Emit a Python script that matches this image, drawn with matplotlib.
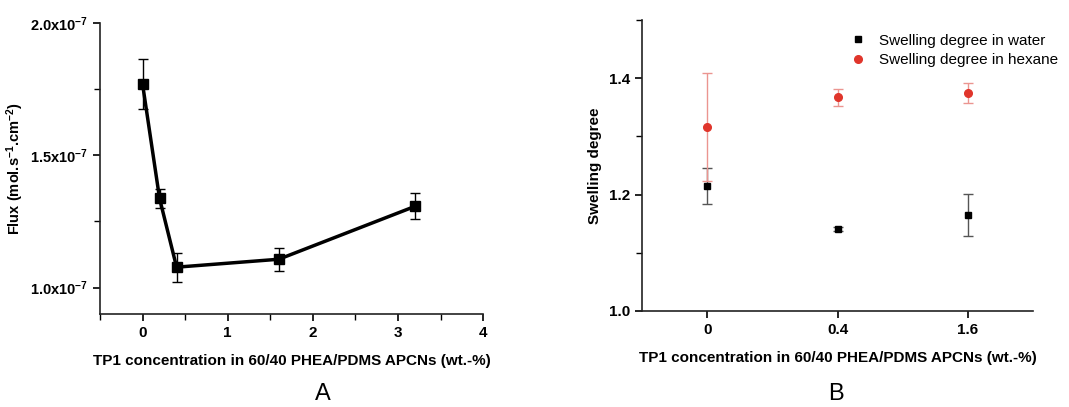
import numpy as np
import matplotlib
matplotlib.use("Agg")
import matplotlib.pyplot as plt
from matplotlib.ticker import MultipleLocator, FuncFormatter

plt.rcParams['font.family'] = ['Liberation Sans', 'DejaVu Sans']
plt.rcParams['mathtext.default'] = 'regular'

# panel A: flux vs TP1 concentration
conc_a = [0, 0.2, 0.4, 1.6, 3.2]
flux = [1.77e-7, 1.337e-7, 1.077e-7, 1.107e-7, 1.307e-7]
flux_err = [0.095e-7, 0.035e-7, 0.055e-7, 0.044e-7, 0.049e-7]

# panel B: swelling degree
conc_b = ['0', '0.4', '1.6']
sw_water = [1.214, 1.141, 1.165]
sw_water_err = [0.031, 0.004, 0.036]
sw_hexane = [1.316, 1.367, 1.374]
sw_hexane_err = [0.092, 0.014, 0.017]

xlabel = "TP1 concentration in 60/40 PHEA/PDMS APCNs (wt.-%)"

fig = plt.figure(figsize=(10.69, 4.07), dpi=100)
ax1 = fig.add_axes([0.0935, 0.2285, 0.3585, 0.715])
ax2 = fig.add_axes([0.6006, 0.2359, 0.3657, 0.7151])

for ax in (ax1, ax2):
    ax.spines['top'].set_visible(False)
    ax.spines['right'].set_visible(False)
    for s in ('left', 'bottom'):
        ax.spines[s].set_linewidth(1.2)
        ax.spines[s].set_color('#222222')
    ax.tick_params(which='major', direction='out', length=5, width=1.2, labelsize=11)
    ax.tick_params(which='minor', direction='out', length=4, width=1.0)

# --- A ---
ax1.errorbar(conc_a, flux, yerr=flux_err, color='black', lw=2.5, marker='s',
             ms=7.5, capsize=3.5, elinewidth=1.0, capthick=1.0, ecolor='black')
ax1.set_xlim(-0.5, 4)
ax1.set_ylim(0.9e-7, 2.0e-7)
ax1.xaxis.set_major_locator(MultipleLocator(1))
ax1.xaxis.set_minor_locator(MultipleLocator(0.5))
ax1.set_yticks([1.0e-7, 1.5e-7, 2.0e-7])
ax1.yaxis.set_minor_locator(MultipleLocator(0.25e-7))
ax1.yaxis.set_major_formatter(FuncFormatter(lambda v, p: r"%.1fx10$^{-7}$" % (v * 1e7)))
ax1.set_ylabel(r"Flux (mol.s$^{-1}$.cm$^{-2}$)", fontsize=10.5, fontweight='bold', labelpad=3)
ax1.set_xlabel(xlabel, fontsize=11, fontweight='bold', labelpad=10)
ax1.tick_params(axis='y', labelsize=10.5)

# --- B ---
xpos = np.arange(len(conc_b))
ax2.errorbar(xpos, sw_water, yerr=sw_water_err, fmt='s', color='black', ms=5,
             ecolor='#555555', elinewidth=1.0, capsize=3.5, capthick=1.0,
             label='Swelling degree in water')
ax2.errorbar(xpos, sw_hexane, yerr=sw_hexane_err, fmt='o', color='#e0352b', ms=5.5,
             ecolor='#eb9590', elinewidth=1.0, capsize=3.5, capthick=1.0,
             label='Swelling degree in hexane')
ax2.set_xlim(-0.5, 2.5)
ax2.set_ylim(1.0, 1.5)
ax2.set_xticks(xpos)
ax2.set_xticklabels(conc_b)
ax2.set_yticks([1.0, 1.2, 1.4])
ax2.yaxis.set_minor_locator(MultipleLocator(0.1))
ax2.yaxis.set_major_formatter(FuncFormatter(lambda v, p: "%.1f" % v))
ax2.set_ylabel("Swelling degree", fontsize=11, fontweight='bold', labelpad=5)
ax2.set_xlabel(xlabel, fontsize=11, fontweight='bold', labelpad=10)

for ax in (ax1, ax2):
    for lab in ax.get_xticklabels() + ax.get_yticklabels():
        lab.set_fontweight('bold')

handles, labels = ax2.get_legend_handles_labels()
leg = ax2.legend([h[0] for h in handles], labels, loc='upper right',
                 bbox_to_anchor=(1.1, 1.0), frameon=False, fontsize=11,
                 handletextpad=0.8, labelspacing=0.35, handlelength=1.2)

fig.text(0.302, 0.016, "A", fontsize=17, ha='center')
fig.text(0.782, 0.016, "B", fontsize=17, ha='center')

fig.savefig("out.png", dpi=100)
